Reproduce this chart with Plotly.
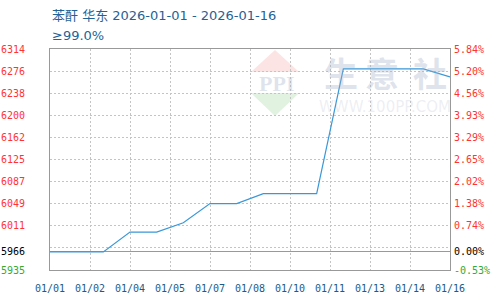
import plotly.graph_objects as go
import pandas as pd

# ---- data ----
dates = ["2026-01-01", "2026-01-02", "2026-01-03", "2026-01-04", "2026-01-05",
         "2026-01-06", "2026-01-07", "2026-01-08", "2026-01-09", "2026-01-10",
         "2026-01-11", "2026-01-12", "2026-01-13", "2026-01-14", "2026-01-15",
         "2026-01-16"]
prices = [5966, 5966, 5966, 6000, 6000, 6016, 6049, 6049, 6066, 6066,
          6066, 6280, 6280, 6280, 6280, 6266]
base_price = 5966
y_min, y_max = 5935, 6314
x_tick_labels = ["01/01", "01/02", "01/04", "01/05", "01/07", "01/08",
                 "01/10", "01/11", "01/13", "01/14", "01/16"]
left_tick_labels = ["5935", "5966", "6011", "6049", "6087", "6125",
                    "6162", "6200", "6238", "6276", "6314"]
right_tick_labels = ["-0.53%", "0.00%", "0.74%", "1.38%", "2.02%", "2.65%",
                     "3.29%", "3.93%", "4.56%", "5.20%", "5.84%"]
title_text = "苯酐 华东 2026-01-01 - 2026-01-16"
subtitle_text = "≥99.0%"

# ---- derived ----
step = (y_max - y_min) / 10
grid_vals = [y_min + k * step for k in range(11)]
left_tick_vals = [y_min, base_price] + grid_vals[2:]
pct = lambda v: (v - base_price) / base_price * 100
right_tick_vals = [pct(v) for v in left_tick_vals]

RED, GREEN, BLACK = "#ff3333", "#33aa33", "#000000"
def colored(labels):
    out = []
    for i, t in enumerate(labels):
        c = GREEN if i == 0 else (BLACK if i == 1 else RED)
        out.append(f'<span style="color:{c}">{t}</span>')
    return out

x_dates = pd.to_datetime(dates)
x_ticks = pd.date_range(dates[0], periods=len(x_tick_labels), freq="36h")

fig = go.Figure()
fig.add_trace(go.Scatter(x=x_dates, y=prices, mode="lines",
                         line=dict(color="#3a98d8", width=1.2),
                         hoverinfo="x+y", showlegend=False))
fig.add_trace(go.Scatter(x=x_dates, y=[pct(v) for v in prices], mode="lines",
                         line=dict(color="rgba(0,0,0,0)", width=0),
                         yaxis="y2", hoverinfo="skip", showlegend=False))

tick_font = dict(family="DejaVu Sans Mono", size=10)
grid_col = "#c4c4c4"
grid_dash = "2px,2px"
frame_col = "#999999"

fig.update_layout(
    width=500, height=300,
    margin=dict(l=50, r=50, t=49, b=30),
    paper_bgcolor="white", plot_bgcolor="white",
    xaxis=dict(
        range=[x_dates[0], x_dates[-1]], automargin=False,
        tickmode="array", tickvals=x_ticks, ticktext=x_tick_labels,
        tickfont=dict(tick_font, color="#1a5b8a"),
        showgrid=True, gridcolor=grid_col, griddash=grid_dash, gridwidth=1,
        showline=True, linecolor=frame_col, linewidth=1, mirror=True,
        ticks="", ticklabelstandoff=9, zeroline=False,
    ),
    yaxis=dict(
        range=[y_min, y_max], automargin=False,
        tickmode="array", tickvals=left_tick_vals,
        ticktext=colored(left_tick_labels),
        tickfont=tick_font,
        showgrid=True, gridcolor=grid_col, griddash=grid_dash, gridwidth=1,
        minor=dict(tick0=y_min, dtick=step, showgrid=True,
                   gridcolor=grid_col, griddash=grid_dash, ticks=""),
        showline=True, linecolor=frame_col, linewidth=1, mirror=True,
        ticks="", ticklabelstandoff=22, zeroline=False,
    ),
    yaxis2=dict(
        overlaying="y", side="right", automargin=False,
        range=[pct(y_min), pct(y_max)],
        tickmode="array", tickvals=right_tick_vals,
        ticktext=colored(right_tick_labels),
        tickfont=tick_font,
        showgrid=False, zeroline=True, zerolinecolor=frame_col, zerolinewidth=1,
        ticks="", ticklabelstandoff=3, showline=False,
    ),
)

# title / subtitle
title_font = dict(family="DejaVu Sans, Noto Sans CJK SC", size=13, color="#1f6396")
fig.add_annotation(text=title_text, xref="paper", yref="paper", x=0, y=1,
                   xanchor="left", yanchor="middle", yshift=34, showarrow=False,
                   font=title_font)
fig.add_annotation(text=subtitle_text, xref="paper", yref="paper", x=0, y=1,
                   xanchor="left", yanchor="middle", yshift=14, showarrow=False,
                   font=title_font)

# watermark (decoration)
def px(xp, yp):
    return (xp - 50) / 400, (270 - yp) / 221
def path(points):
    s = "M " + " L ".join(f"{px(a,b)[0]:.4f},{px(a,b)[1]:.4f}" for a, b in points) + " Z"
    return s
fig.add_shape(type="path", xref="paper", yref="paper", layer="below",
              path=path([(275, 50), (299, 72), (251, 72)]),
              fillcolor="#fce4e4", line=dict(width=0))
fig.add_shape(type="path", xref="paper", yref="paper", layer="below",
              path=path([(251, 93), (299, 93), (275, 116)]),
              fillcolor="#e1f2e1", line=dict(width=0))
wm = "rgba(160,175,200,0.35)"
xp, yp = px(276, 83)
fig.add_annotation(text="<b>PPI</b>", xref="paper", yref="paper", x=xp, y=yp,
                   xanchor="center", yanchor="middle",
                   showarrow=False, font=dict(family="Liberation Serif", size=22, color=wm))
for ch, cx in zip(["生", "意", "社"], [341, 382, 430]):
    xp, yp = px(cx, 73)
    fig.add_annotation(text=f"<b>{ch}</b>", xref="paper", yref="paper", x=xp, y=yp,
                       xanchor="center", yanchor="middle",
                       showarrow=False,
                       font=dict(family="Noto Sans CJK SC", size=34, color=wm))
xp, yp = px(385, 107)
fig.add_annotation(text="WWW.100PP.COM", xref="paper", yref="paper", x=xp, y=yp,
                   xanchor="center", yanchor="middle",
                   showarrow=False,
                   font=dict(family="DejaVu Sans", size=15, color="rgba(170,180,200,0.22)"))

fig.write_html("out.html")
